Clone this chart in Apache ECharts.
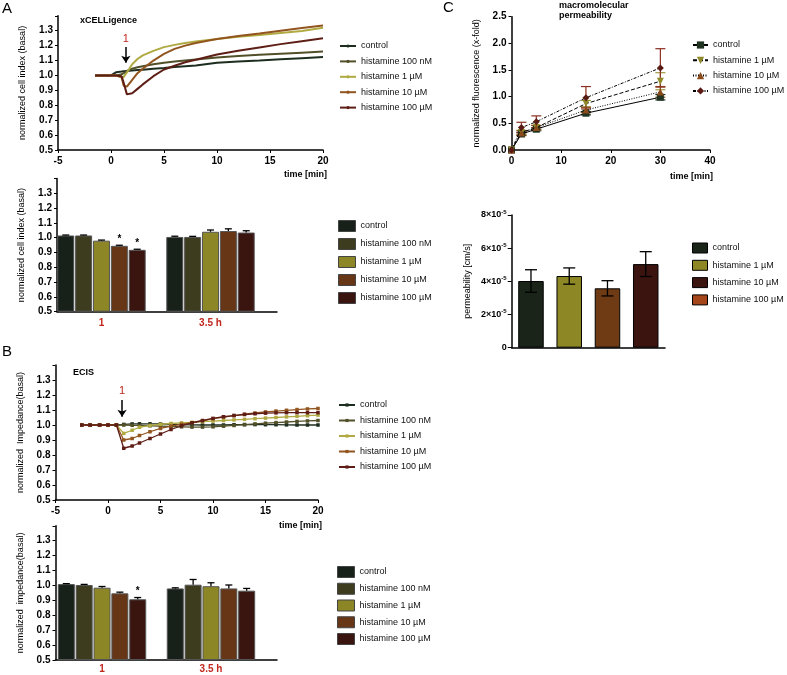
<!DOCTYPE html>
<html><head><meta charset="utf-8">
<script src="https://cdn.jsdelivr.net/npm/echarts@6/dist/echarts.min.js"></script>
<style>html,body{margin:0;padding:0;background:#fff}#c{width:787px;height:675px}</style>
</head><body><div id="c"></div><script>
// ---------------- DATA ----------------
const condAB = ['control', 'histamine 100 nM', 'histamine 1 µM', 'histamine 10 µM', 'histamine 100 µM'];
const condC = ['control', 'histamine 1 µM', 'histamine 10 µM', 'histamine 100 µM'];
const barGroups = ['1', '3.5 h'];

// A: xCELLigence time course
const tA = [-1.5, -1, -0.5, 0, 0.5, 1, 1.2, 1.5, 2, 2.5, 3, 4, 5, 6, 7, 8, 10, 12, 14, 16, 18, 20];
const xcelControl = [1.0, 1.0, 1.0, 1.0, 1.022, 1.026, 1.028, 1.03, 1.033, 1.036, 1.039, 1.045, 1.05, 1.056, 1.062, 1.067, 1.085, 1.093, 1.1, 1.108, 1.116, 1.124];
const xcel100nM = [1.0, 1.0, 1.0, 1.0, 1.0, 1.008, 1.015, 1.03, 1.045, 1.055, 1.062, 1.075, 1.085, 1.093, 1.1, 1.107, 1.12, 1.13, 1.138, 1.146, 1.153, 1.16];
const xcel1uM = [1.0, 1.0, 1.0, 1.0, 1.0, 0.985, 0.99, 1.02, 1.075, 1.11, 1.135, 1.165, 1.19, 1.205, 1.218, 1.228, 1.245, 1.26, 1.272, 1.285, 1.298, 1.32];
const xcel10uM = [1.0, 1.0, 1.0, 1.0, 1.0, 0.99, 0.93, 0.925, 0.97, 1.015, 1.045, 1.1, 1.145, 1.178, 1.2, 1.218, 1.245, 1.265, 1.282, 1.3, 1.318, 1.335];
const xcel100uM = [1.0, 1.0, 1.0, 1.0, 1.0, 0.995, 0.95, 0.873, 0.88, 0.91, 0.94, 0.995, 1.04, 1.065, 1.088, 1.105, 1.14, 1.165, 1.188, 1.21, 1.23, 1.25];

// A: xCELLigence bars (per condition: [group "1", group "3.5 h"])
const xcelBarMean = [[1.015, 1.005], [1.015, 1.005], [0.98, 1.04], [0.945, 1.045], [0.918, 1.035]];
const xcelBarErr = [[0.003, 0.005], [0.003, 0.004], [0.004, 0.012], [0.004, 0.015], [0.004, 0.012]];
const xcelBarSig = [[0, 0], [0, 0], [0, 0], [1, 0], [1, 0]];

// B: ECIS time course
const tB = [-2.5, -1.7, -0.8, 0, 0.8, 1.5, 2.3, 3, 4, 5, 6, 7, 8, 9, 10, 11, 12, 13, 14, 15, 16, 17, 18, 19, 20];
const ecisControl = [1.0, 1.0, 1.0, 1.0, 1.0, 1.004, 1.007, 1.008, 1.008, 1.007, 1.005, 1.003, 1.001, 1.0, 1.0, 1.0, 1.002, 1.003, 1.003, 1.002, 1.002, 1.001, 1.0, 1.0, 1.0];
const ecis100nM = [1.0, 1.0, 1.0, 1.0, 1.0, 1.0, 0.998, 0.997, 0.995, 0.993, 0.99, 0.988, 0.986, 0.986, 0.988, 0.992, 0.997, 1.002, 1.007, 1.012, 1.016, 1.02, 1.024, 1.027, 1.03];
const ecis1uM = [1.0, 1.0, 1.0, 1.0, 1.0, 0.944, 0.965, 0.985, 0.997, 1.005, 1.01, 1.014, 1.018, 1.022, 1.026, 1.03, 1.034, 1.038, 1.042, 1.046, 1.05, 1.054, 1.058, 1.062, 1.066];
const ecis10uM = [1.0, 1.0, 1.0, 1.0, 1.0, 0.9, 0.91, 0.93, 0.955, 0.977, 0.993, 1.005, 1.015, 1.028, 1.042, 1.053, 1.063, 1.072, 1.08, 1.087, 1.093, 1.098, 1.103, 1.107, 1.11];
const ecis100uM = [1.0, 1.0, 1.0, 1.0, 1.0, 0.845, 0.86, 0.88, 0.91, 0.94, 0.97, 0.995, 1.015, 1.03, 1.044, 1.055, 1.063, 1.07, 1.075, 1.079, 1.081, 1.082, 1.083, 1.082, 1.082];

// B: ECIS bars
const ecisBarMean = [[1.009, 0.98], [1.003, 1.005], [0.985, 0.995], [0.947, 0.98], [0.907, 0.965]];
const ecisBarErr = [[0.003, 0.004], [0.004, 0.035], [0.008, 0.023], [0.008, 0.023], [0.012, 0.015]];
const ecisBarSig = [[0, 0], [0, 0], [0, 0], [0, 0], [1, 0]];

// C: macromolecular permeability
const tC = [0, 2, 5, 15, 30];
const permControl = [0, 0.30, 0.39, 0.69, 0.99];
const perm1uM = [0, 0.33, 0.42, 0.87, 1.29];
const perm10uM = [0, 0.32, 0.42, 0.75, 1.09];
const perm100uM = [0, 0.42, 0.53, 0.98, 1.54];
const permControlErr = [0, 0.03, 0.03, 0.03, 0.05];
const perm1uMErr = [0, 0.04, 0.04, 0.06, 0.16];
const perm10uMErr = [0, 0.04, 0.04, 0.05, 0.10];
const perm100uMErr = [0, 0.10, 0.11, 0.21, 0.36];

// C: permeability coefficient bars [cm/s]
const permBarMean = [4.02e-5, 4.32e-5, 3.58e-5, 5.04e-5];
const permBarErr = [0.68e-5, 0.49e-5, 0.46e-5, 0.75e-5];

// ---------------- STYLE ----------------
const FONT = '"Liberation Sans", Arial, sans-serif';
const lineColors = ['#1d2d1f', '#525029', '#b0aa42', '#92551f', '#5e1e16'];
const barColors = ['#172019', '#3e3c1f', '#8c8626', '#663616', '#3a140f'];
const cMarker = ['#1f3320', '#8f8a2a', '#8b4a1a', '#5a1a14'];
const cErrColor = ['#1f3320', '#a09a40', '#8b4a1a', '#8b2f22'];
const cDash = ['solid', [4, 2], [1, 1.5], [3, 1.5, 1, 1.5]];
const cSymbol = ['rect', 'triangle', 'triangle', 'diamond'];
const cRot = [0, 180, 0, 0];
const cBarColors = ['#1a2419', '#8e8726', '#6e3b15', '#3b1410'];
const cLegendColors = ['#1a2419', '#8e8726', '#3b1410', '#a5461a'];
const RED = '#c0261c';

const xcelLines = [xcelControl, xcel100nM, xcel1uM, xcel10uM, xcel100uM];
const ecisLines = [ecisControl, ecis100nM, ecis1uM, ecis10uM, ecis100uM];
const permLines = [permControl, perm1uM, perm10uM, perm100uM];
const permErrs = [permControlErr, perm1uMErr, perm10uMErr, perm100uMErr];

const tickLabel = { fontFamily: FONT, fontSize: 10, fontWeight: 'bold', color: '#000' };
const axLine = { show: true, onZero: false, lineStyle: { color: '#000', width: 1.5 } };
const axTick = { show: true, length: 3, lineStyle: { color: '#000', width: 1 } };
const nameStyle = { fontFamily: FONT, fontSize: 9, color: '#000' };

function yAB(gi, name, gap) {
  return {
    type: 'value', gridIndex: gi, min: 0.5, max: 1.4, interval: 0.1, startValue: 0.5,
    axisLine: axLine, axisTick: axTick, splitLine: { show: false },
    axisLabel: Object.assign({}, tickLabel, { margin: 5, formatter: v => v > 1.35 ? '' : v.toFixed(1) }),
    name: name, nameLocation: 'middle', nameGap: gap, nameTextStyle: nameStyle
  };
}
function xTime(gi) {
  return {
    type: 'value', gridIndex: gi, min: -5, max: 20, interval: 5,
    axisLine: axLine, axisTick: axTick, splitLine: { show: false },
    axisLabel: Object.assign({}, tickLabel, { margin: 6 })
  };
}
function xBar(gi, min, max, margin) {
  return {
    type: 'value', gridIndex: gi, min: min, max: max,
    axisLine: axLine, axisTick: { show: false }, splitLine: { show: false },
    axisLabel: Object.assign({}, tickLabel, {
      color: RED, margin: margin, customValues: barGroups.map((g, i) => i),
      formatter: v => (Math.abs(v - Math.round(v)) < 1e-6 && barGroups[Math.round(v)]) || ''
    })
  };
}

function barErrSeries(gi, means, errs, sigs, barW, gapPct, capW, both) {
  const n = means.length;
  const data = [];
  means.forEach((row, k) => row.forEach((v, g) => data.push([g, v, errs[k][g], k, sigs ? sigs[k][g] : 0])));
  return {
    type: 'custom', xAxisIndex: gi, yAxisIndex: gi, z: 5, silent: true, data: data,
    encode: { x: 0, y: 1 },
    renderItem: function (params, api) {
      const g = api.value(0), v = api.value(1), e = api.value(2), k = api.value(3), s = api.value(4);
      const pitch = barW * (1 + gapPct);
      const p = api.coord([g, v]);
      const cx = p[0] + (k - (n - 1) / 2) * pitch;
      const yv = p[1], yt = api.coord([g, v + e])[1], yb = api.coord([g, v - e])[1];
      const st = { stroke: '#000', lineWidth: 1.3 };
      const ch = [
        { type: 'line', shape: { x1: cx, y1: yv, x2: cx, y2: yt }, style: st },
        { type: 'line', shape: { x1: cx - capW / 2, y1: yt, x2: cx + capW / 2, y2: yt }, style: st }
      ];
      if (both) {
        ch.push({ type: 'line', shape: { x1: cx, y1: yv, x2: cx, y2: yb }, style: st });
        ch.push({ type: 'line', shape: { x1: cx - capW / 2, y1: yb, x2: cx + capW / 2, y2: yb }, style: st });
      }
      if (s) ch.push({ type: 'text', style: { text: '*', x: cx, y: yt - 1, align: 'center', verticalAlign: 'bottom', font: 'bold 10px ' + FONT, fill: '#000' } });
      return { type: 'group', children: ch };
    }
  };
}

const series = [];
// A1 lines
xcelLines.forEach((arr, i) => series.push({
  type: 'line', name: 'A1:' + condAB[i], xAxisIndex: 0, yAxisIndex: 0,
  data: tA.map((t, j) => [t, arr[j]]), symbol: 'none', z: 2 + i,
  lineStyle: { color: lineColors[i], width: 2 }, itemStyle: { color: lineColors[i] },
  markLine: i === 0 ? {
    silent: true, symbol: ['none', 'arrow'], symbolSize: 7,
    lineStyle: { color: '#000', width: 1.5, type: 'solid' },
    label: { show: true, position: 'start', formatter: '1', color: RED, fontFamily: FONT, fontSize: 11, distance: 3 },
    data: [[{ coord: [1.4, 1.19] }, { coord: [1.4, 1.085] }]]
  } : undefined
}));
// A2 bars
xcelBarMean.forEach((arr, i) => series.push({
  type: 'bar', name: 'A2:' + condAB[i], xAxisIndex: 1, yAxisIndex: 1,
  data: barGroups.map((g, j) => [j, arr[j]]), barWidth: 17, barGap: '5%',
  itemStyle: { color: barColors[i], borderColor: '#555', borderWidth: 1 }
}));
series.push(barErrSeries(1, xcelBarMean, xcelBarErr, xcelBarSig, 17, 0.05, 7, false));
// B1 lines
ecisLines.forEach((arr, i) => series.push({
  type: 'line', name: 'B1:' + condAB[i], xAxisIndex: 2, yAxisIndex: 2,
  data: tB.map((t, j) => [t, arr[j]]), symbol: 'rect', symbolSize: 3.5, z: 2 + i,
  lineStyle: { color: lineColors[i], width: 1.3 }, itemStyle: { color: lineColors[i] },
  markLine: i === 0 ? {
    silent: true, symbol: ['none', 'arrow'], symbolSize: 7,
    lineStyle: { color: '#000', width: 1.5, type: 'solid' },
    label: { show: true, position: 'start', formatter: '1', color: RED, fontFamily: FONT, fontSize: 11, distance: 3 },
    data: [[{ coord: [1.34, 1.167] }, { coord: [1.34, 1.055] }]]
  } : undefined
}));
// B2 bars
ecisBarMean.forEach((arr, i) => series.push({
  type: 'bar', name: 'B2:' + condAB[i], xAxisIndex: 3, yAxisIndex: 3,
  data: barGroups.map((g, j) => [j, arr[j]]), barWidth: 17, barGap: '5%',
  itemStyle: { color: barColors[i], borderColor: '#555', borderWidth: 1 }
}));
series.push(barErrSeries(3, ecisBarMean, ecisBarErr, ecisBarSig, 17, 0.05, 7, false));
// C1 lines + error bars
permLines.forEach((arr, i) => {
  series.push({
    type: 'custom', xAxisIndex: 4, yAxisIndex: 4, z: 2, silent: true,
    data: tC.map((t, j) => [t, arr[j], permErrs[i][j]]), encode: { x: 0, y: 1 },
    renderItem: function (params, api) {
      const t = api.value(0), v = api.value(1), e = api.value(2);
      if (!e) return { type: 'group', children: [] };
      const x = api.coord([t, v])[0], yt = api.coord([t, v + e])[1], yb = api.coord([t, v - e])[1];
      const st = { stroke: cErrColor[i], lineWidth: 1.2 };
      return { type: 'group', children: [
        { type: 'line', shape: { x1: x, y1: yb, x2: x, y2: yt }, style: st },
        { type: 'line', shape: { x1: x - 5, y1: yt, x2: x + 5, y2: yt }, style: st },
        { type: 'line', shape: { x1: x - 5, y1: yb, x2: x + 5, y2: yb }, style: st }
      ] };
    }
  });
  series.push({
    type: 'line', name: 'C1:' + condC[i], xAxisIndex: 4, yAxisIndex: 4, z: 4 + i,
    data: tC.map((t, j) => [t, arr[j]]), symbol: cSymbol[i], symbolSize: 7, symbolRotate: cRot[i],
    lineStyle: { color: '#000', width: 1, type: cDash[i] }, itemStyle: { color: cMarker[i] }
  });
});
// C2 bars
permBarMean.forEach((v, i) => series.push({
  type: 'bar', name: 'C2:' + condC[i], xAxisIndex: 5, yAxisIndex: 5,
  data: [[0, v]], barWidth: 25.5, barGap: '50%',
  itemStyle: { color: cBarColors[i], borderColor: '#000', borderWidth: 1 }
}));
series.push(barErrSeries(5, permBarMean.map(v => [v]), permBarErr.map(v => [v]), null, 25.5, 0.5, 12, true));

function legend(prefix, names, left, top, gap, w, h, icon, styleFn) {
  return {
    orient: 'vertical', left: left, top: top, padding: 0, itemGap: gap, itemWidth: w, itemHeight: h,
    selectedMode: false, icon: icon,
    data: names.map((n, i) => {
      const d = { name: prefix + n };
      if (styleFn) d.itemStyle = styleFn(i);
      return d;
    }),
    formatter: nm => nm.slice(3),
    textStyle: { fontFamily: FONT, fontSize: 9, color: '#111', lineHeight: 12 }
  };
}

const txt = (x, y, text, font, align, color) => ({
  type: 'text', x: x, y: y, silent: true,
  style: { text: text, font: font, align: align || 'left', verticalAlign: 'middle', fill: color || '#000' }
});

const option = {
  animation: false,
  backgroundColor: '#fff',
  grid: [
    { left: 58, top: 15.8, width: 265, height: 134.2, outerBoundsMode: 'none' },
    { left: 57, top: 178.5, width: 220, height: 133.2, outerBoundsMode: 'none' },
    { left: 55.5, top: 365, width: 262.5, height: 135, outerBoundsMode: 'none' },
    { left: 55.5, top: 525.8, width: 221.5, height: 134.2, outerBoundsMode: 'none' },
    { left: 511.5, top: 16.7, width: 198.5, height: 133.3, outerBoundsMode: 'none' },
    { left: 511.7, top: 215, width: 153.3, height: 132.7, outerBoundsMode: 'none' }
  ],
  xAxis: [
    xTime(0),
    xBar(1, -0.408, 1.61, 7),
    xTime(2),
    xBar(3, -0.427, 1.606, 4),
    { type: 'value', gridIndex: 4, min: 0, max: 40, interval: 10, axisLine: axLine, axisTick: axTick,
      splitLine: { show: false }, axisLabel: Object.assign({}, tickLabel, { margin: 6 }) },
    { type: 'value', gridIndex: 5, min: -1, max: 1, axisLine: axLine, axisTick: { show: false },
      splitLine: { show: false }, axisLabel: { show: false } }
  ],
  yAxis: [
    yAB(0, 'normalized cell index (basal)', 31),
    yAB(1, 'normalized cell index (basal)', 31),
    yAB(2, 'normalized  Impedance(basal)', 30),
    yAB(3, 'normalized  impedance(basal)', 30),
    { type: 'value', gridIndex: 4, min: 0, max: 2.5, interval: 0.5, axisLine: axLine, axisTick: axTick,
      splitLine: { show: false }, axisLabel: Object.assign({}, tickLabel, { margin: 5, formatter: v => v.toFixed(1) }),
      name: 'normalized fluorescence (x-fold)', nameLocation: 'middle', nameGap: 30, nameTextStyle: nameStyle },
    { type: 'value', gridIndex: 5, min: 0, max: 8e-5, interval: 2e-5, axisLine: axLine,
      axisTick: { show: true, length: 4, lineStyle: { color: '#000', width: 1 } }, splitLine: { show: false },
      axisLabel: { margin: 5, fontFamily: FONT, fontSize: 9, fontWeight: 'bold', color: '#000',
        formatter: v => { const m = Math.round(v * 1e5); return m === 0 ? '{a|0}' : '{a|' + m + '×10}{s|-5}'; },
        rich: { a: { fontFamily: FONT, fontSize: 9, fontWeight: 'bold', color: '#000', lineHeight: 12 },
                s: { fontFamily: FONT, fontSize: 6, fontWeight: 'bold', color: '#000', verticalAlign: 'top', lineHeight: 12 } } },
      name: 'permeability [cm/s]', nameLocation: 'middle', nameGap: 40, nameTextStyle: nameStyle }
  ],
  legend: [
    legend('A1:', condAB, 339, 40, 3.4, 16, 4),
    legend('A2:', condAB, 338, 220, 6, 17, 11, 'rect', i => ({ color: barColors[i], borderColor: '#444', borderWidth: 1 })),
    legend('B1:', condAB, 338, 399, 3.5, 16, 4),
    legend('B2:', condAB, 337, 566, 4.75, 17, 11, 'rect', i => ({ color: barColors[i], borderColor: '#444', borderWidth: 1 })),
    legend('C1:', condC, 692, 39, 3.3, 15, 9),
    legend('C2:', condC, 692, 242, 5.3, 15, 10, 'rect', i => ({ color: cLegendColors[i], borderColor: '#000', borderWidth: 1 }))
  ],
  graphic: [
    txt(2, 9, 'A', '15px ' + FONT),
    txt(2, 352, 'B', '15px ' + FONT),
    txt(443, 8, 'C', '15px ' + FONT),
    txt(80, 21, 'xCELLigence', 'bold 9px ' + FONT),
    txt(73, 373, 'ECIS', 'bold 9px ' + FONT),
    txt(559, 6, 'macromolecular', 'bold 9px ' + FONT),
    txt(559, 16, 'permeability', 'bold 9px ' + FONT),
    txt(327, 175, 'time [min]', 'bold 9px ' + FONT, 'right'),
    txt(322, 526, 'time [min]', 'bold 9px ' + FONT, 'right'),
    txt(713, 177, 'time [min]', 'bold 9px ' + FONT, 'right')
  ],
  series: series
};
const chart = echarts.init(document.getElementById('c'), null, { renderer: 'canvas' });
chart.setOption(option);
</script></body></html>
